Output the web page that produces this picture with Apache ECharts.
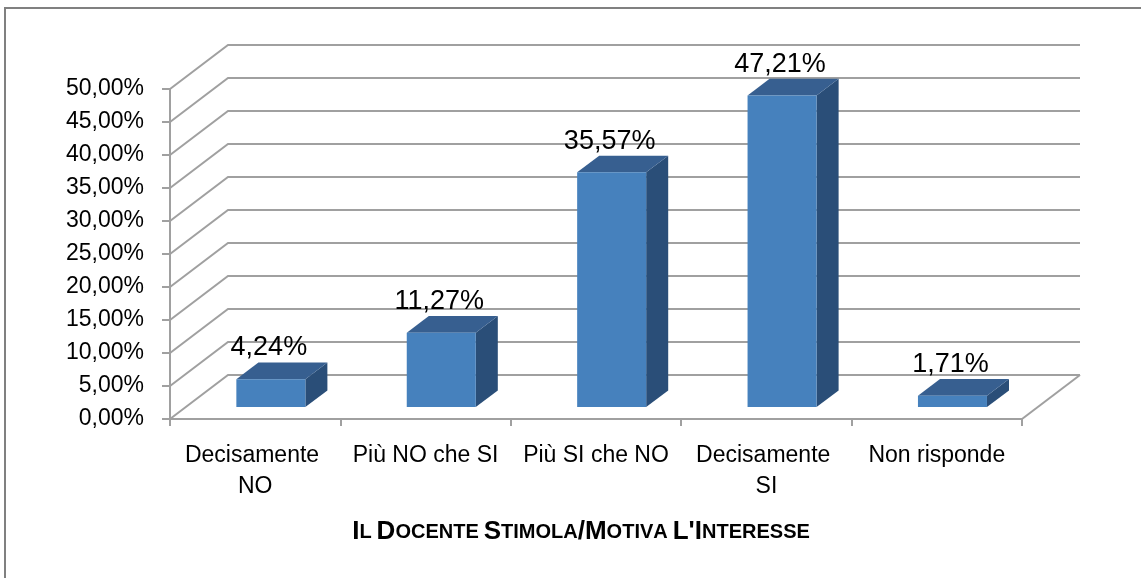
<!DOCTYPE html>
<html>
<head>
<meta charset="utf-8">
<script src="https://cdn.jsdelivr.net/npm/echarts@6/dist/echarts.min.js"></script>
<style>
  html, body { margin: 0; padding: 0; background: #fff; }
  #chart { width: 1141px; height: 578px; }
</style>
</head>
<body>
<div id="chart"></div>
<script>
const categories = ['Decisamente NO', 'Più NO che SI', 'Più SI che NO', 'Decisamente SI', 'Non risponde']
const percents = [4.24, 11.27, 35.57, 47.21, 1.71]
const yTicks = [0, 5, 10, 15, 20, 25, 30, 35, 40, 45, 50]
const titleText = "Il Docente Stimola/Motiva L'Interesse"

// perspective offset of the back wall (px)
const DX = 58
const DY = -44
const Z0 = 0.27
const Z1 = 0.65
const GRID_COLOR = '#a0a0a0'
const FONT = '"Liberation Sans", Arial, sans-serif'

const fmt = v => v.toFixed(2).replace('.', ',') + '%'

// fake small caps with rich text
function smallCaps(str) {
  let out = ''
  for (const ch of str) {
    if (ch === ' ') { out += ' '; continue }
    const big = ch === ch.toUpperCase()
    out += '{' + (big ? 'b' : 's') + '|' + ch.toUpperCase() + '}'
  }
  return out
}

const chart = echarts.init(document.getElementById('chart'), null, { renderer: 'canvas' })

function renderWall(params, api) {
  const v = api.value(1)
  const p = api.coord([0, v])
  const band = api.size([1, 0])[0]
  const xL = p[0] - band / 2
  const xR = xL + band * categories.length
  const style = { stroke: GRID_COLOR, lineWidth: 2, fill: null }
  const children = [{
    type: 'polyline',
    shape: { points: [[xL, p[1]], [xL + DX, p[1] + DY], [xR + DX, p[1] + DY]] },
    style
  }]
  if (v === 0) {
    children.push({
      type: 'line',
      shape: { x1: xR, y1: p[1], x2: xR + DX, y2: p[1] + DY },
      style
    })
  }
  return { type: 'group', children }
}

function renderBar(params, api) {
  const top = api.coord([api.value(0), api.value(1)])
  const base = api.coord([api.value(0), 0])
  const band = api.size([1, 0])[0]
  const w = band * 0.405
  const fx0 = top[0] - w / 2 + Z0 * DX
  const fx1 = fx0 + w
  const yT = top[1] + Z0 * DY
  const yB = base[1] + Z0 * DY
  const bdx = (Z1 - Z0) * DX
  const bdy = (Z1 - Z0) * DY
  return {
    type: 'group',
    children: [
      {
        type: 'polygon',
        shape: { points: [[fx1, yT], [fx1 + bdx, yT + bdy], [fx1 + bdx, yB + bdy], [fx1, yB]] },
        style: { fill: '#2a4e78' }
      },
      {
        type: 'polygon',
        shape: { points: [[fx0, yT], [fx1, yT], [fx1 + bdx, yT + bdy], [fx0 + bdx, yT + bdy]] },
        style: { fill: '#375f90' }
      },
      {
        type: 'rect',
        shape: { x: fx0, y: yT, width: w, height: yB - yT },
        style: { fill: '#4681bd' }
      },
      {
        type: 'text',
        x: fx0 + w / 2 - 2,
        y: yT + bdy - 1,
        style: {
          text: fmt(api.value(1)),
          textAlign: 'center',
          textVerticalAlign: 'bottom',
          fill: '#000',
          font: '27px ' + FONT
        }
      }
    ]
  }
}

const option = {
  animation: false,
  backgroundColor: '#fff',
  textStyle: { fontFamily: FONT },
  graphic: [{
    type: 'rect',
    shape: { x: 5, y: 8, width: 1200, height: 620 },
    style: { fill: null, stroke: '#808080', lineWidth: 2 },
    z: 0
  }],
  title: {
    text: smallCaps(titleText),
    left: 576,
    top: 514,
    textAlign: 'center',
    textStyle: {
      rich: {
        b: { fontSize: 26, fontWeight: 'bold', color: '#000', fontFamily: FONT },
        s: { fontSize: 20, fontWeight: 'bold', color: '#000', fontFamily: FONT }
      }
    }
  },
  grid: { left: 170, right: 119, top: 89, bottom: 159 },
  xAxis: {
    type: 'category',
    data: categories,
    axisLine: { lineStyle: { color: GRID_COLOR, width: 2 } },
    axisTick: { show: true, interval: 0, length: 7, lineStyle: { color: GRID_COLOR, width: 2 } },
    axisLabel: {
      interval: 0,
      color: '#000',
      fontSize: 23,
      lineHeight: 31,
      margin: 21,
      width: 160,
      overflow: 'break'
    }
  },
  yAxis: {
    type: 'value',
    min: 0,
    max: 50,
    interval: 5,
    axisLine: { show: true, lineStyle: { color: GRID_COLOR, width: 2 } },
    axisTick: { show: true, length: 8, lineStyle: { color: GRID_COLOR, width: 2 } },
    splitLine: { show: false },
    axisLabel: {
      color: '#000',
      fontSize: 23,
      margin: 26,
      formatter: fmt
    }
  },
  series: [
    {
      type: 'custom',
      renderItem: renderWall,
      data: yTicks.map(v => [0, v]),
      clip: false,
      silent: true,
      z: 1
    },
    {
      type: 'custom',
      renderItem: renderBar,
      data: percents.map((v, i) => [i, v]),
      clip: false,
      z: 2
    }
  ]
}

chart.setOption(option)
</script>
</body>
</html>
